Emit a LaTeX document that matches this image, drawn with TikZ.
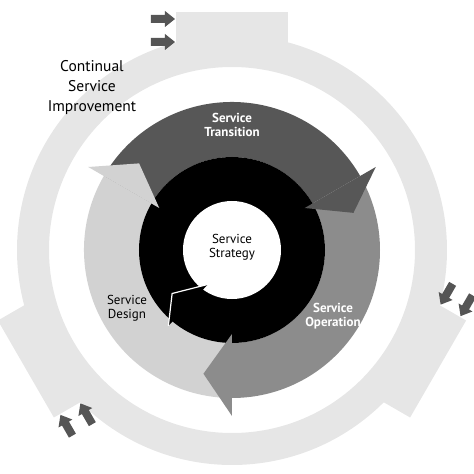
\documentclass[tikz,border=0pt]{standalone}
\usepackage{fontspec}
\setmainfont{PT Sans}
\definecolor{csigray}{HTML}{E6E6E6}
\definecolor{sdgray}{HTML}{D2D2D2}
\definecolor{sogray}{HTML}{8C8C8C}
\definecolor{stgray}{HTML}{575757}
\definecolor{tipgray}{HTML}{555555}

\begin{document}
\begin{tikzpicture}
  [x=1pt,y=1pt,
   every node/.style={align=center,font=\fontsize{13}{14.5}\selectfont},
   phase/.style={font=\fontsize{13}{14.5}\selectfont\bfseries,text=white}]
  \useasboundingbox (-232,-224) rectangle (242,250);
  % outer ring and its three tabs
  \fill[csigray,even odd rule] (0,0) circle (215) (0,0) circle (183);
  \foreach \a in {90,-30,210}{
    \begin{scope}[rotate=\a-90]
      \fill[csigray] (-56,195) rectangle (56,238);
      \foreach \r in {208,231}
        \fill[tipgray] (-81,\r-4) -- (-67,\r-4) -- (-67,\r-8) -- (-57,\r)
          -- (-67,\r+8) -- (-67,\r+4) -- (-81,\r+4) -- cycle;
    \end{scope}
  }
  % phase arcs
  \foreach \from/\to/\col in {150/30/stgray,30/-90/sogray,270/150/sdgray}
    \fill[\col] (\from:93) arc[start angle=\from,end angle=\to,radius=93]
      -- (\to:148) arc[start angle=\to,end angle=\from,radius=148] -- cycle;
  \fill (0,0) circle (93);
  \fill[white] (0,0) circle (49);
  \foreach \b/\col in {150/sdgray,30/stgray,-90/sogray}
    \fill[\col] (\b:84) -- (\b-13:127) -- (\b:166) -- cycle;
  % strategy head
  \fill (-125:42) -- (-144:74) -- (-130:99) -- cycle;
  \draw[white,line width=1.2] (-125:42) -- (-144:74) -- (-130:99);
  % labels
  \node (csi) at (-140,162) [font=\fontsize{15.5}{20}\selectfont] {Continual\\Service\\Improvement};
  \node[phase] (st) at (0,125) {Service\\Transition};
  \node (ss) at (0,3) {Service\\Strategy};
  \node (sd) at (-105,-58) {Service\\Design};
  \node[phase] (so) at (101,-66) {Service\\Operation};
\end{tikzpicture}
\end{document}
